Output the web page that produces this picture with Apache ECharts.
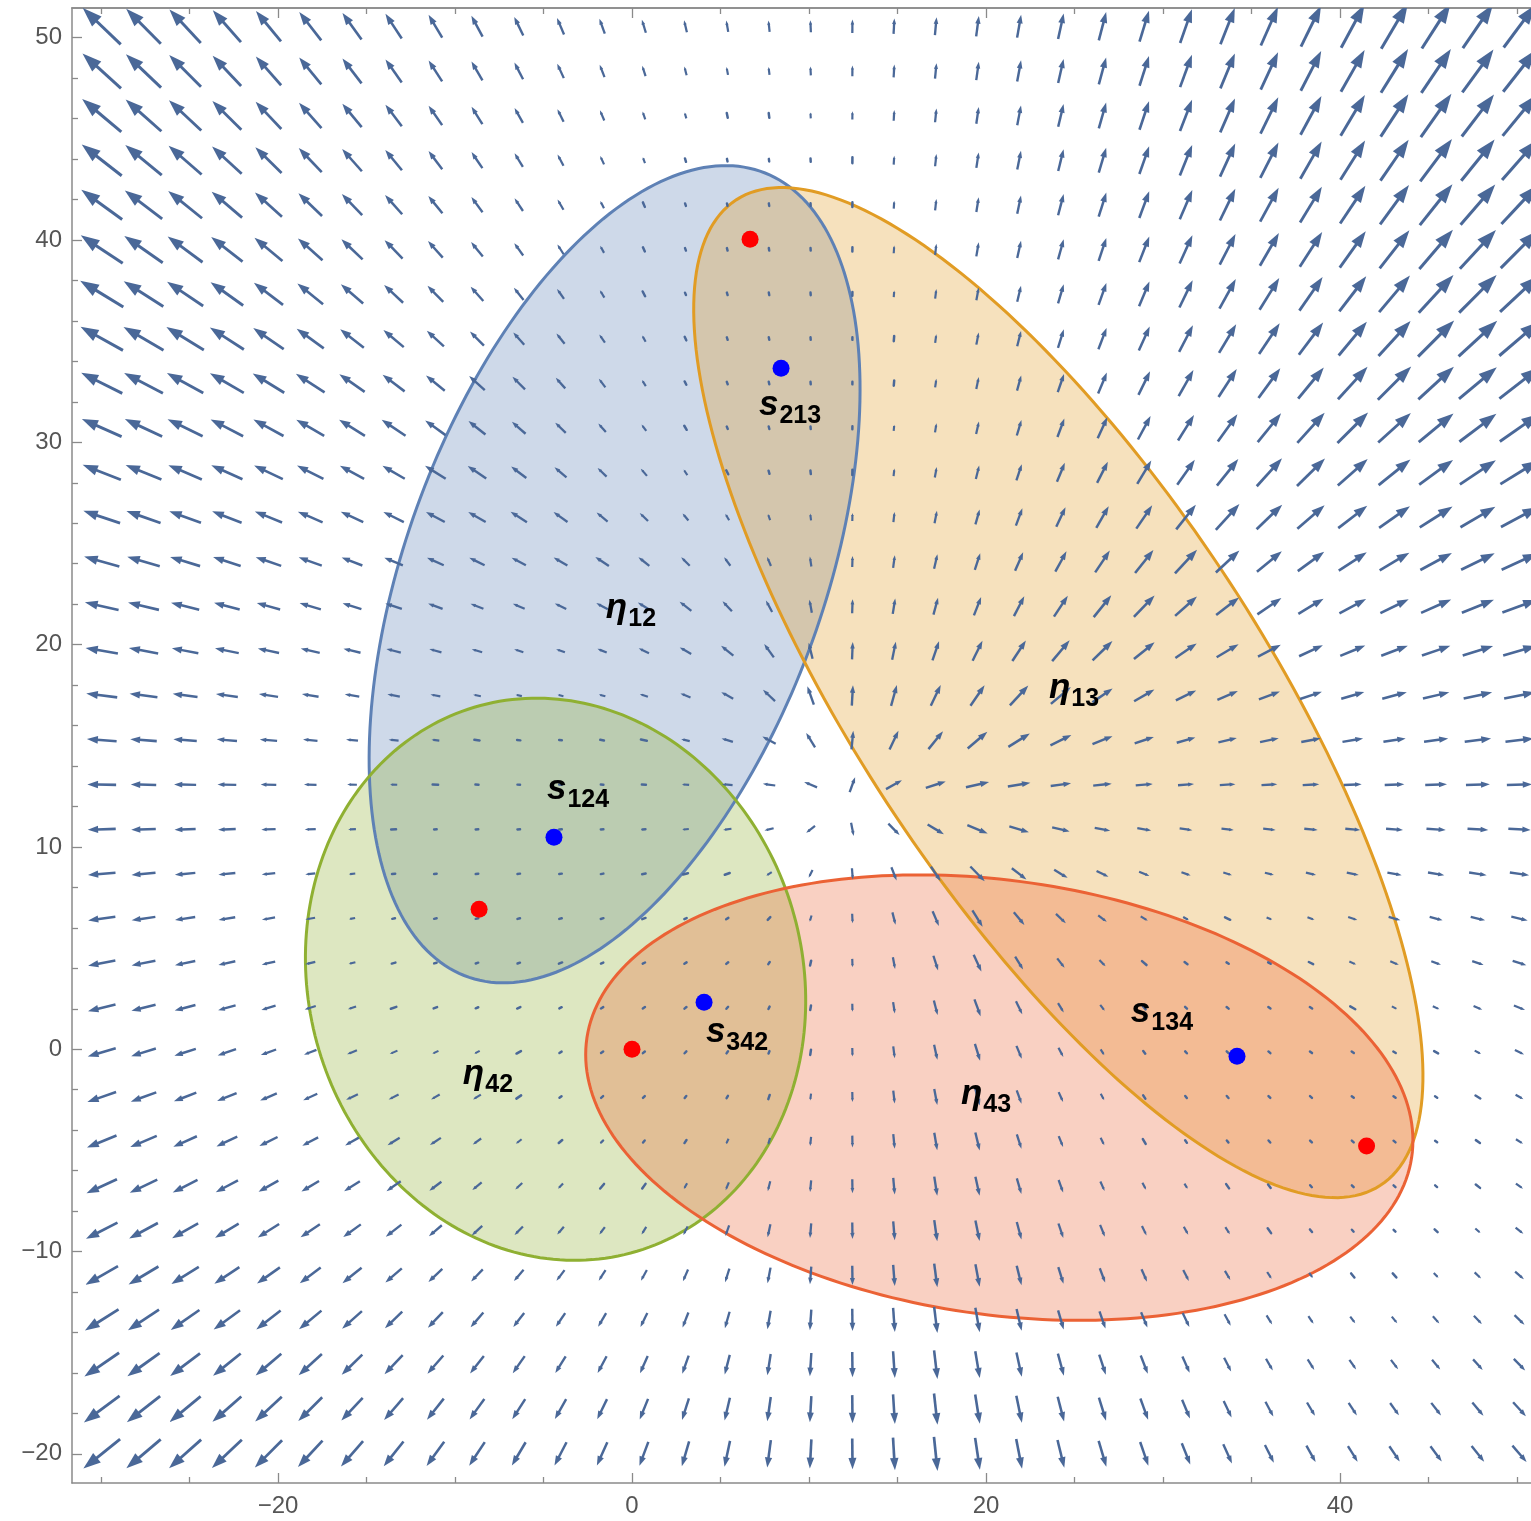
<!DOCTYPE html>
<html>
<head>
<meta charset="utf-8">
<script src="https://cdn.jsdelivr.net/npm/echarts@6/dist/echarts.min.js"></script>
<style>
  html, body { margin: 0; padding: 0; background: #fff; }
  #main { width: 1531px; height: 1521px; }
</style>
</head>
<body>
<div id="main"></div>
<script>
// red points (ellipse foci), numbered 1..4 as in the labels
var redX = [6.67, -8.64, 41.5, 0];
var redY = [40.04, 6.92, -4.78, 0];
// blue points s213, s124, s342, s134
var blueX = [8.42, -4.41, 4.07, 34.18];
var blueY = [33.66, 10.48, 2.32, -0.34];

// ellipses eta12, eta13, eta42, eta43: focus pair (index into red) + semi-major axis
var ellFocusA = [0, 0, 3, 3];
var ellFocusB = [1, 2, 1, 2];
var ellSemiMajor = [21.6, 30.44, 14.55, 23.49];
var ellColors = ["#5E81B5", "#E19C24", "#8FB032", "#EB6235"];

// text labels
var labelMain = ["η", "s", "η", "s", "η", "s", "s", "η"];
var labelSub = ["12", "213", "13", "124", "42", "342", "134", "43"];
var labelX = [-0.06, 8.93, 24.97, -3.05, -8.14, 5.93, 29.94, 20.0];
var labelY = [21.66, 31.69, 17.7, 12.7, -1.38, 0.7, 1.69, -2.37];

// vector plot sample points
var xGrid = [-29.96, -27.60, -25.25, -22.89, -20.54, -18.18, -15.82, -13.47, -11.11, -8.76,
  -6.40, -4.04, -1.69, 0.67, 3.02, 5.38, 7.74, 10.09, 12.45, 14.80, 17.16, 19.52, 21.87,
  24.23, 26.58, 28.94, 31.30, 33.65, 36.01, 38.36, 40.72, 43.08, 45.43, 47.79, 50.14];
var yGrid = [-20.00, -17.79, -15.59, -13.38, -11.18, -8.97, -6.77, -4.56, -2.36, -0.15,
  2.05, 4.26, 6.46, 8.67, 10.87, 13.08, 15.28, 17.49, 19.70, 21.90, 24.11, 26.31, 28.52,
  30.72, 32.93, 35.13, 37.34, 39.54, 41.75, 43.95, 46.16, 48.36, 50.57];
// field: away from this centre, steeper than radial on the
// right of it and flatter on the left near the middle, vanishing at the dots
var fieldCenter = [12.0, 12.3];
var stretchRight = 2.2, stretchLeft = 0.4, stretchRange = 28;

// axis ticks
var xMajor = [-20, 0, 20, 40];
var xMinor = [-30, -25, -15, -10, -5, 5, 10, 15, 25, 30, 35, 45, 50];
var yMajor = [-20, -10, 0, 10, 20, 30, 40, 50];
var yMinor = [-18, -16, -14, -12, -8, -6, -4, -2, 2, 4, 6, 8, 12, 14, 16, 18, 22, 24, 26, 28,
  32, 34, 36, 38, 42, 44, 46, 48];

var XMIN = -31.64, XMAX = 50.79, YMIN = -21.44, YMAX = 51.47;
var ARROW = "#4A6898";
var FRAME = "#8a8a8a";

function minus(v) { return v < 0 ? "\u2212" + Math.abs(v) : String(v); }

function nearestDist(x, y) {
  var best = Infinity, i, d;
  for (i = 0; i < redX.length; i++) {
    d = Math.hypot(x - redX[i], y - redY[i]);
    if (d < best) best = d;
  }
  for (i = 0; i < blueX.length; i++) {
    d = Math.hypot(x - blueX[i], y - blueY[i]);
    if (d < best) best = d;
  }
  return best;
}

function fieldDir(x, y) {
  var ddx = x - fieldCenter[0], ddy = y - fieldCenter[1];
  var r = Math.hypot(ddx, ddy);
  var e = Math.exp(-r / stretchRange);
  var wR = 0.5 + 0.5 * Math.tanh(ddx / 4);
  var k = 1 + ((stretchRight - 1) * wR + (stretchLeft - 1) * (1 - wR)) * e;
  return [ddx, ddy * k];
}

function arrowItem(params, api) {
  var x = api.value(0), y = api.value(1);
  var f = fieldDir(x, y);
  var p0 = api.coord([x, y]);
  var p1 = api.coord([x + f[0] * 0.01, y + f[1] * 0.01]);
  var dx = p1[0] - p0[0], dy = p1[1] - p0[1];
  var n = Math.sqrt(dx * dx + dy * dy) || 1;
  var ux = dx / n, uy = dy / n;
  var L = Math.min(53, Math.max(2.6, 1.5 * (nearestDist(x, y) - 3)));
  var tail = [p0[0] - ux * L / 2, p0[1] - uy * L / 2];
  var tip = [p0[0] + ux * L / 2, p0[1] + uy * L / 2];
  var lw = 2.0 + 0.02 * L;
  if (L < 6) {
    return { type: "line", shape: { x1: tail[0], y1: tail[1], x2: tip[0], y2: tip[1] },
      style: { stroke: ARROW, lineWidth: lw + 0.4, lineCap: "round" } };
  }
  var h = 0.37 * L, w = 0.13 * L;
  var bx = tip[0] - ux * h, by = tip[1] - uy * h;
  return {
    type: "group",
    children: [
      { type: "line", shape: { x1: tail[0], y1: tail[1], x2: bx + ux, y2: by + uy },
        style: { stroke: ARROW, lineWidth: lw } },
      { type: "polygon", shape: { points: [tip, [bx - uy * w, by + ux * w], [bx + uy * w, by - ux * w]] },
        style: { fill: ARROW } }
    ]
  };
}

function ellipsePoints(k, api) {
  var ax = redX[ellFocusA[k]], ay = redY[ellFocusA[k]];
  var bx = redX[ellFocusB[k]], by = redY[ellFocusB[k]];
  var cx = (ax + bx) / 2, cy = (ay + by) / 2;
  var c = Math.hypot(bx - ax, by - ay) / 2;
  var a = ellSemiMajor[k];
  var b = Math.sqrt(a * a - c * c);
  var t = Math.atan2(by - ay, bx - ax);
  var pts = [];
  for (var i = 0; i < 240; i++) {
    var s = i / 240 * Math.PI * 2;
    var ex = a * Math.cos(s), ey = b * Math.sin(s);
    pts.push(api.coord([cx + ex * Math.cos(t) - ey * Math.sin(t), cy + ex * Math.sin(t) + ey * Math.cos(t)]));
  }
  return pts;
}

function ellipseFill(params, api) {
  return {
    type: "polygon", shape: { points: ellipsePoints(params.dataIndex, api) },
    style: { fill: echarts.color.modifyAlpha(ellColors[params.dataIndex], 0.3) }
  };
}
function ellipseEdge(params, api) {
  return {
    type: "polygon", shape: { points: ellipsePoints(params.dataIndex, api) },
    style: { fill: null, stroke: ellColors[params.dataIndex], lineWidth: 3 }
  };
}

function labelItem(params, api) {
  var i = params.dataIndex;
  var p = api.coord([labelX[i], labelY[i]]);
  return {
    type: "text", x: p[0], y: p[1],
    style: {
      text: "{m|" + labelMain[i] + "}{s|" + labelSub[i] + "}",
      align: "center", verticalAlign: "middle",
      rich: {
        m: { fontSize: 35, fontWeight: "bold", fontStyle: "italic", fontFamily: "Liberation Sans",
          fill: "#000", verticalAlign: "bottom", padding: [0, 1, 6, 0] },
        s: { fontSize: 25, fontWeight: "bold", fontFamily: "Liberation Sans", fill: "#000", verticalAlign: "bottom" }
      }
    }
  };
}

var arrowData = [];
yGrid.forEach(function (y) { xGrid.forEach(function (x) { arrowData.push([x, y]); }); });

function xAxisDef(pos, ticks, len, labels) {
  return {
    type: "value", min: XMIN, max: XMAX, position: pos, gridIndex: 0,
    axisLine: { show: labels !== null || pos === "top", onZero: false, lineStyle: { color: FRAME, width: 1.5 } },
    axisTick: { show: true, inside: true, length: len, customValues: ticks, lineStyle: { color: FRAME, width: 1.3 } },
    axisLabel: labels ? { show: true, customValues: labels, formatter: minus, color: "#555",
      fontSize: 24, fontFamily: "Liberation Sans", margin: 11 } : { show: false },
    splitLine: { show: false }
  };
}
function yAxisDef(pos, ticks, len, labels) {
  return {
    type: "value", min: YMIN, max: YMAX, position: pos, gridIndex: 0,
    axisLine: { show: labels !== null, onZero: false, lineStyle: { color: FRAME, width: 1.5 } },
    axisTick: { show: pos === "left", inside: true, length: len, customValues: ticks, lineStyle: { color: FRAME, width: 1.3 } },
    axisLabel: labels ? { show: true, customValues: labels, formatter: minus, color: "#555",
      fontSize: 24, fontFamily: "Liberation Sans", margin: 10 } : { show: false },
    splitLine: { show: false }
  };
}

var chart = echarts.init(document.getElementById("main"));

var ellData = ellSemiMajor.map(function (v, i) { return [i, v]; });
var series = [
  { type: "custom", renderItem: ellipseFill, data: ellData, clip: true, silent: true, z: 1 },
  { type: "custom", renderItem: ellipseEdge, data: ellData, clip: true, silent: true, z: 1 },
  { type: "custom", renderItem: arrowItem, data: arrowData, clip: true, silent: true, z: 2 },
  { type: "scatter", data: redX.map(function (x, i) { return [x, redY[i]]; }),
    symbolSize: 17, itemStyle: { color: "#FF0000", opacity: 1 }, z: 3 },
  { type: "scatter", data: blueX.map(function (x, i) { return [x, blueY[i]]; }),
    symbolSize: 17, itemStyle: { color: "#0000FF", opacity: 1 }, z: 3 },
  { type: "custom", renderItem: labelItem, data: labelX.map(function (x, i) { return [x, labelY[i]]; }),
    silent: true, z: 4 }
];

chart.setOption({
  animation: false,
  backgroundColor: "#fff",
  grid: { left: 72, top: 8, width: 1459, height: 1475, containLabel: false },
  xAxis: [
    xAxisDef("bottom", xMajor, 10, xMajor),
    xAxisDef("bottom", xMinor, 6, null),
    xAxisDef("top", xMajor, 10, null),
    xAxisDef("top", xMinor, 6, null)
  ],
  yAxis: [
    yAxisDef("left", yMajor, 10, yMajor),
    yAxisDef("left", yMinor, 6, null),
    yAxisDef("right", yMajor, 10, null),
    yAxisDef("right", yMinor, 6, null)
  ],
  series: series
});
</script>
</body>
</html>
